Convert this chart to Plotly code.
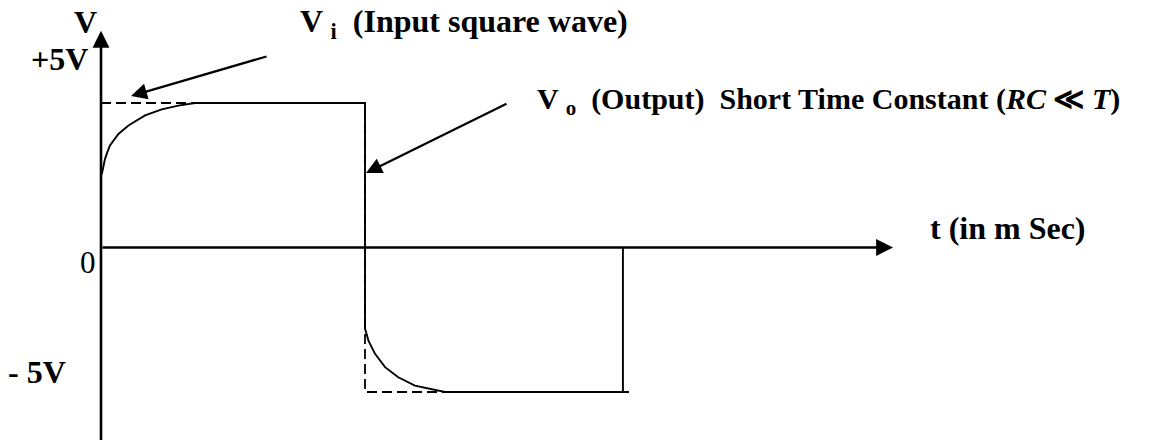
import plotly.graph_objects as go

# ---- data (t in ms, V in volts) ----
t_in = [0.0, 1.0, 1.0, 2.0]
v_in = [5.0, 5.0, -5.0, -5.0]

t_out = [0.003, 0.008, 0.015, 0.024, 0.034, 0.066, 0.104, 0.167, 0.230, 0.293, 0.356, 1.0,
         1.0, 1.0, 1.013, 1.038, 1.076, 1.126, 1.189, 1.253, 1.303, 1.977, 1.977]
v_out = [2.53, 2.80, 3.06, 3.30, 3.53, 3.93, 4.22, 4.57, 4.78, 4.91, 5.0, 5.0,
         -2.80, -2.80, -3.22, -3.68, -4.14, -4.49, -4.78, -4.91, -5.0, -5.0, 0.0]

t_axis_end = 3.0
v_axis_top = 7.5
v_axis_bottom = -6.8

W, H = 1154, 440
X0_PX, PX_PER_MS = 101, 264
Y0_PX, PX_PER_V = 247.5, 28.9
x_range = [-X0_PX / PX_PER_MS, (W - X0_PX) / PX_PER_MS]
y_range = [-(H - Y0_PX) / PX_PER_V, Y0_PX / PX_PER_V]

def tx(px):
    return (px - X0_PX) / PX_PER_MS

def vy(py):
    return (Y0_PX - py) / PX_PER_V

fig = go.Figure()
fig.add_trace(go.Scatter(x=t_in, y=v_in, mode="lines",
                         line=dict(color="black", width=1.8, dash="10px,5px"),
                         hoverinfo="skip", showlegend=False))
fig.add_trace(go.Scatter(x=t_out, y=v_out, mode="lines",
                         line=dict(color="black", width=1.9),
                         hoverinfo="skip", showlegend=False))

ann = []
# axes with arrows
ann.append(dict(x=0, y=v_axis_top, ax=0, ay=v_axis_bottom, xref="x", yref="y",
                axref="x", ayref="y", text="", showarrow=True, arrowhead=2,
                arrowsize=1.3, arrowwidth=2.6, arrowcolor="black", standoff=0))
ann.append(dict(x=t_axis_end, y=0, ax=0, ay=0, xref="x", yref="y",
                axref="x", ayref="y", text="", showarrow=True, arrowhead=2,
                arrowsize=1.3, arrowwidth=2.6, arrowcolor="black", standoff=0))
# pointer arrows
ann.append(dict(x=tx(131), y=vy(96), ax=tx(268), ay=vy(56), xref="x", yref="y",
                axref="x", ayref="y", text="", showarrow=True, arrowhead=2,
                arrowsize=1.45, arrowwidth=2.2, arrowcolor="black", standoff=0))
ann.append(dict(x=tx(366), y=vy(173), ax=tx(508), ay=vy(103), xref="x", yref="y",
                axref="x", ayref="y", text="", showarrow=True, arrowhead=2,
                arrowsize=1.45, arrowwidth=2.2, arrowcolor="black", standoff=0))

FB = "Liberation Serif"
def label(text, px, py, anchor="left", bold=True, size=32):
    ann.append(dict(x=tx(px), y=vy(py), xref="x", yref="y", text=(f"<b>{text}</b>" if bold else text),
                    showarrow=False, xanchor=anchor, yanchor="middle",
                    font=dict(family=FB, size=size, color="black")))

label("V", 72, 22)
label("+5V", 29, 59)
label("0", 78, 262, bold=False, size=31)
label("- 5V", 6, 372)
label("t (in m Sec)", 928, 228)
label("V <sub>i</sub>  (Input square wave)", 298, 23)
label("V <sub>o</sub>  (Output)  Short Time Constant (<i>RC</i> ≪ <i>T</i>)", 535, 101, size=30)

fig.update_layout(
    width=W, height=H, margin=dict(l=0, r=0, t=0, b=0),
    paper_bgcolor="white", plot_bgcolor="white",
    xaxis=dict(range=x_range, visible=False, fixedrange=True),
    yaxis=dict(range=y_range, visible=False, fixedrange=True),
    annotations=ann, showlegend=False,
)
fig.write_html("out.html", config={"displayModeBar": False},
               post_script="document.body.style.margin='0';document.body.style.overflow='hidden';")
